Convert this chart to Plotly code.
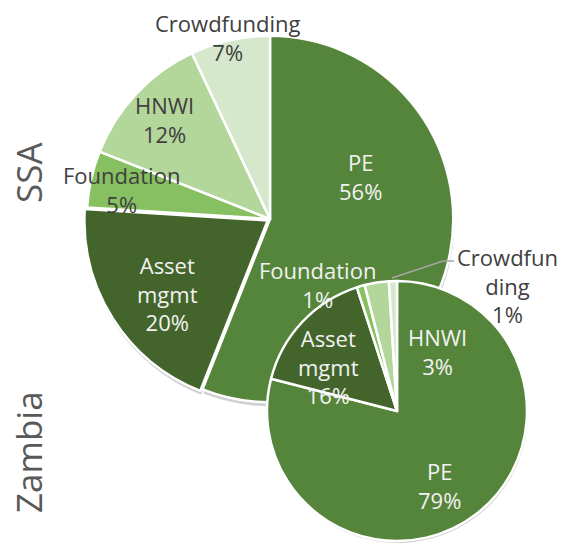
import plotly.graph_objects as go

W, H = 572, 543

# ---- data ----
categories = ["PE", "Asset mgmt", "Foundation", "HNWI", "Crowdfunding"]
ssa_values = [56, 20, 5, 12, 7]
zambia_values = [79, 16, 1, 3, 1]
pie_titles = ["SSA", "Zambia"]

# ---- style ----
colors = ["#55853a", "#43652b", "#86c060", "#b3d69a", "#d6e8cc"]
ssa_label_color = ["#f2f2f2", "#f2f2f2", "#404040", "#404040", "#404040"]
zam_label_color = ["#f2f2f2", "#f2f2f2", "#f2f2f2", "#f2f2f2", "#404040"]
# label centres in pixels (x, y from top)
ssa_label_pos = [(360, 176), (167, 293), (121, 189), (165, 119), (227, 37)]
zam_label_pos = [(439, 485), (328, 366), (317, 284), (437, 351), (507, 285)]
zam_label_text_override = {4: "Crowdfun<br>ding"}

FONT = "Open Sans"


def px(x, y):
    return x / W, 1 - y / H


def dom(cx, cy, r):
    return dict(x=[(cx - r) / W, (cx + r) / W],
                y=[max(0, 1 - (cy + r) / H), min(1, 1 - (cy - r) / H)])


fig = go.Figure()

ssa_geom = (270, 219, 186)
zam_geom = (397, 411, 130)
ssa_dom = dom(*ssa_geom)
zam_dom = dom(*zam_geom)

# soft shadows
for g, vals, dy in [(ssa_geom, ssa_values, 4), (zam_geom, zambia_values, 2)]:
    sd = dom(g[0] + 1, g[1] + dy, g[2])
    fig.add_trace(go.Pie(
        labels=categories, values=vals, sort=False, direction="clockwise",
        rotation=0, domain=sd, textinfo="none", hoverinfo="skip",
        pull=[0, 0.015, 0, 0, 0] if g is ssa_geom else 0,
        marker=dict(colors=["rgba(0,0,0,0.18)"] * 5, line=dict(width=0)),
        showlegend=False,
    ))

fig.add_trace(go.Pie(
    labels=categories, values=ssa_values, sort=False, direction="clockwise",
    rotation=0, domain=ssa_dom, textinfo="none", name="SSA",
    pull=[0, 0.015, 0, 0, 0],
    marker=dict(colors=colors, line=dict(color="white", width=2.5)),
    showlegend=False,
))
fig.add_trace(go.Pie(
    labels=categories, values=zambia_values, sort=False, direction="clockwise",
    rotation=0, domain=zam_dom, textinfo="none", name="Zambia",
    marker=dict(colors=colors, line=dict(color="white", width=2.5)),
    showlegend=False,
))

ann = []
for i, c in enumerate(categories):
    x, y = px(*ssa_label_pos[i])
    ann.append(dict(x=x, y=y, xref="paper", yref="paper", showarrow=False,
                    text=f"{c.replace(' ', '<br>')}<br>{ssa_values[i]}%",
                    font=dict(family=FONT, size=22, color=ssa_label_color[i]),
                    xanchor="center", yanchor="middle"))
for i, c in enumerate(categories):
    x, y = px(*zam_label_pos[i])
    t = zam_label_text_override.get(i, c.replace(" ", "<br>"))
    ann.append(dict(x=x, y=y, xref="paper", yref="paper", showarrow=False,
                    text=f"{t}<br>{zambia_values[i]}%",
                    font=dict(family=FONT, size=22, color=zam_label_color[i]),
                    xanchor="center", yanchor="middle"))

for t, (x0, y0) in zip(pie_titles, [(29, 173), (28, 452)]):
    x, y = px(x0, y0)
    ann.append(dict(x=x, y=y, xref="paper", yref="paper", showarrow=False,
                    text=t, textangle=-90,
                    font=dict(family=FONT, size=35, color="#595959"),
                    xanchor="center", yanchor="middle"))

# leader line for Zambia crowdfunding label
p1, p2, p3 = px(454, 261), px(443, 261), px(392, 278)
shapes = [dict(type="path", xref="paper", yref="paper",
               path=f"M {p1[0]} {p1[1]} L {p2[0]} {p2[1]} L {p3[0]} {p3[1]}",
               line=dict(color="#a6a6a6", width=1.5))]

fig.update_layout(
    width=W, height=H, margin=dict(l=0, r=0, t=0, b=0),
    paper_bgcolor="white", plot_bgcolor="white",
    annotations=ann, shapes=shapes,
)

fig.write_html("out.html", config={"displayModeBar": False},
               post_script="document.body.style.margin='0';document.body.style.overflow='hidden';")
